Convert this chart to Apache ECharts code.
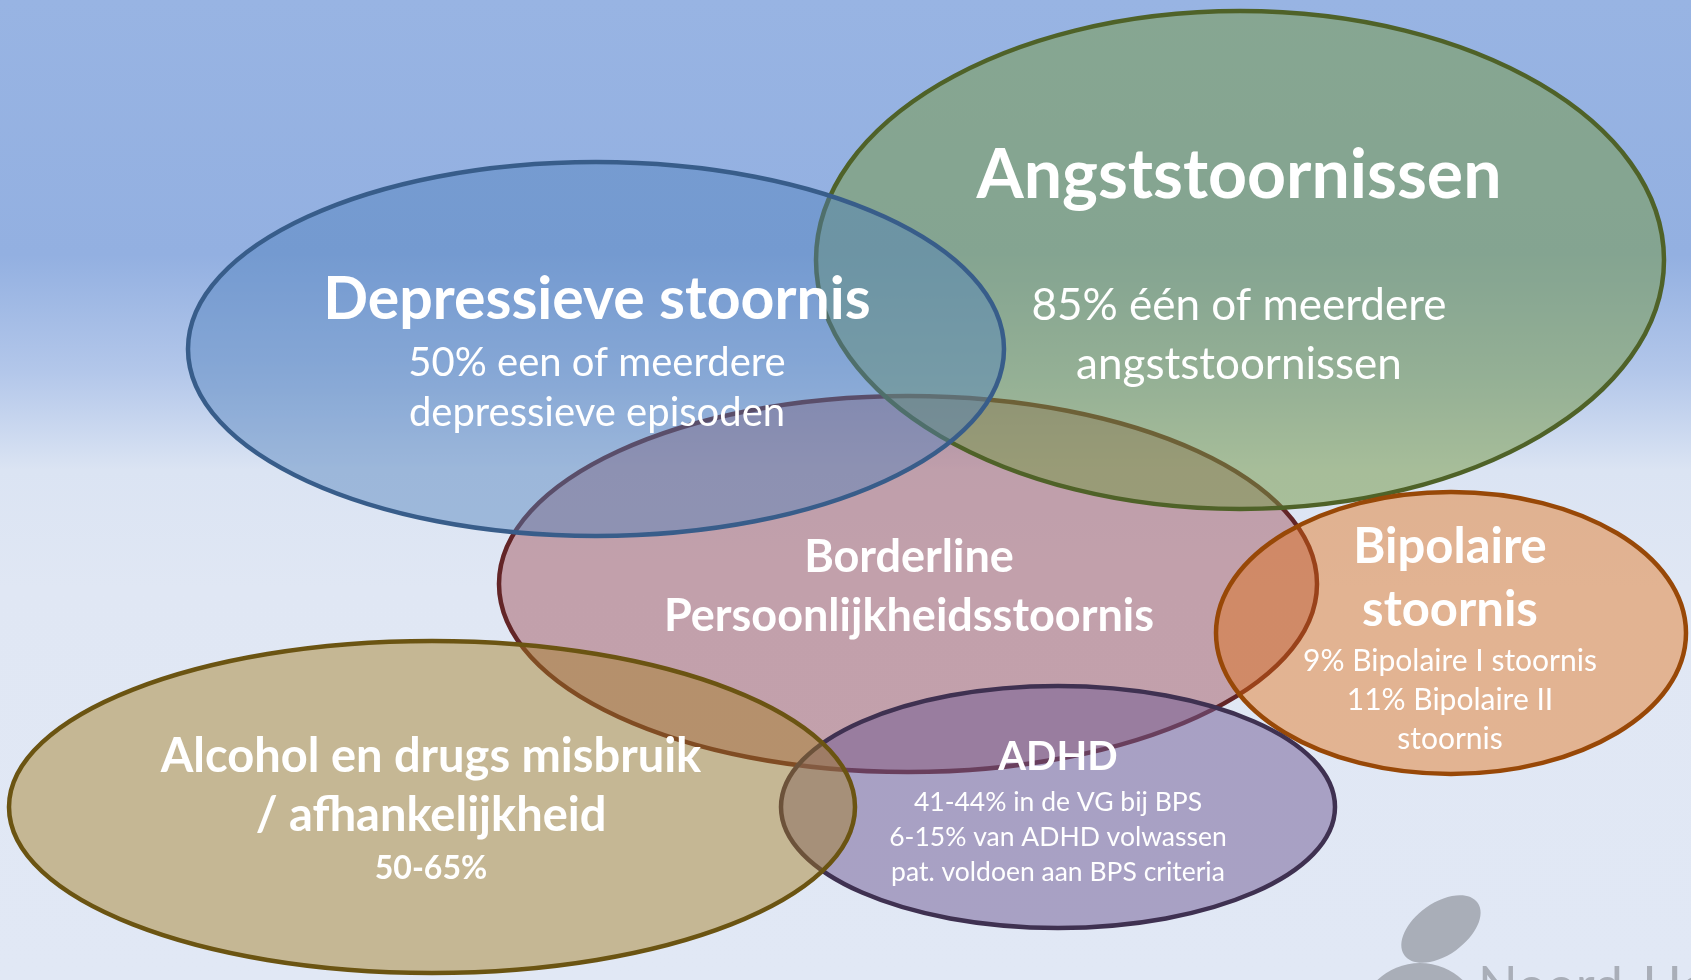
<!DOCTYPE html>
<html>
<head>
<meta charset="utf-8">
<script src="https://cdn.jsdelivr.net/npm/echarts@6/dist/echarts.min.js"></script>
<style>
  html, body { margin: 0; padding: 0; width: 1691px; height: 980px; overflow: hidden; }
  body { background: linear-gradient(to bottom, #98b4e3 0%, #93b0e1 26%, #b3c7ea 38%, #dbe4f3 48%, #e0e7f4 60%, #e1e8f5 100%); }
  #chart { width: 1691px; height: 980px; }
</style>
</head>
<body>
<div id="chart"></div>
<script>
// ---- data (diagram space: 0..1691 wide, 0..980 tall) ----
const circleNames = ['Borderline', 'Angst', 'Depressie', 'Bipolair', 'ADHD', 'Alcohol'];
const centerX = [908, 1240, 596, 1451, 1058, 432];
const centerY = [584, 260, 349, 633, 807, 807];
const radiusX = [409, 424, 408, 235, 277, 423];
const radiusY = [188, 249, 187, 141, 121, 166];

const titleLines = [
  ['Borderline', 'Persoonlijkheidsstoornis'],
  ['Angststoornissen'],
  ['Depressieve stoornis'],
  ['Bipolaire', 'stoornis'],
  ['ADHD'],
  ['Alcohol en drugs misbruik', '/ afhankelijkheid']
];
const detailLines = [
  [],
  ['85% één of meerdere', 'angststoornissen'],
  ['50% een of meerdere', 'depressieve episoden'],
  ['9% Bipolaire I stoornis', '11% Bipolaire II', 'stoornis'],
  ['41-44% in de VG bij BPS', '6-15% van ADHD volwassen', 'pat. voldoen aan BPS criteria'],
  ['50-65%']
];

// ---- styles & layout ----
const fillColors = [
  'rgba(150,55,62,0.40)',
  'rgba(119,153,70,0.52)',
  'rgba(79,129,189,0.45)',
  'rgba(228,108,10,0.42)',
  'rgba(112,90,148,0.50)',
  'rgba(163,124,31,0.45)'
];
const strokeColors = ['#632527', '#4f6228', '#385d8a', '#984807', '#3f3151', '#6b5412'];
const textLayout = [
  { x: 909, titleY: [557, 616], detailY: [], titleSize: 45, detailSize: 30, detailBold: false },
  { x: 1239, titleY: [176], detailY: [306, 365], titleSize: 68, detailSize: 44, detailBold: false },
  { x: 597, titleY: [300], detailY: [363, 413], titleSize: 59, detailSize: 40, detailBold: false },
  { x: 1450, titleY: [547, 610], detailY: [661, 700, 739], titleSize: 49, detailSize: 30, detailBold: false },
  { x: 1058, titleY: [757], detailY: [802, 837, 872], titleSize: 40, detailSize: 26.5, detailBold: false },
  { x: 431, titleY: [757, 816], detailY: [869], titleSize: 47, detailSize: 32, detailBold: true }
];
const FONT = 'Lato, "Open Sans", sans-serif';

const ellipseData = circleNames.map((n, i) => [centerX[i], centerY[i], radiusX[i], radiusY[i], i]);
const textData = [];
titleLines.forEach((lines, i) => lines.forEach((t, j) => textData.push([textLayout[i].x, textLayout[i].titleY[j], i, j, 0])));
detailLines.forEach((lines, i) => lines.forEach((t, j) => textData.push([textLayout[i].x, textLayout[i].detailY[j], i, j, 1])));

const chart = echarts.init(document.getElementById('chart'), null, { renderer: 'canvas' });
chart.setOption({
  backgroundColor: 'transparent',
  animation: false,
  grid: { left: 0, right: 0, top: 0, bottom: 0 },
  xAxis: { type: 'value', min: 0, max: 1691, show: false },
  yAxis: { type: 'value', min: 0, max: 980, inverse: true, show: false },
  graphic: [
    { type: 'ellipse', shape: { cx: 1441, cy: 929, rx: 45, ry: 26 }, rotation: 0.62, originX: 1441, originY: 929,
      style: { fill: '#a9aeb8' }, z: -1 },
    { type: 'circle', shape: { cx: 1420, cy: 1025, r: 62 }, style: { fill: '#a9aeb8' }, z: -1 },
    { type: 'text', x: 1478, y: 961, style: { text: 'Noord-Holland', fill: '#a9aeb8', font: '400 52px ' + FONT }, z: -1 }
  ],
  series: [
    {
      type: 'custom',
      coordinateSystem: 'cartesian2d',
      data: ellipseData,
      encode: { x: 0, y: 1 },
      z: 2,
      renderItem: function (params, api) {
        const c = api.coord([api.value(0), api.value(1)]);
        const s = api.size([api.value(2), api.value(3)]);
        const i = api.value(4);
        return {
          type: 'ellipse',
          shape: { cx: c[0], cy: c[1], rx: s[0], ry: s[1] },
          style: { fill: fillColors[i], stroke: strokeColors[i], lineWidth: 4.5 }
        };
      }
    },
    {
      type: 'custom',
      coordinateSystem: 'cartesian2d',
      data: textData,
      encode: { x: 0, y: 1 },
      z: 5,
      renderItem: function (params, api) {
        const c = api.coord([api.value(0), api.value(1)]);
        const b = api.value(2), j = api.value(3), kind = api.value(4);
        const L = textLayout[b];
        const txt = kind === 0 ? titleLines[b][j] : detailLines[b][j];
        const bold = kind === 0 || L.detailBold;
        const size = kind === 0 ? L.titleSize : L.detailSize;
        return {
          type: 'text',
          x: c[0], y: c[1],
          style: {
            text: txt,
            fill: '#ffffff',
            font: (bold ? '700 ' : '400 ') + size + 'px ' + FONT,
            align: 'center',
            verticalAlign: 'middle'
          }
        };
      }
    }
  ]
});
</script>
</body>
</html>
